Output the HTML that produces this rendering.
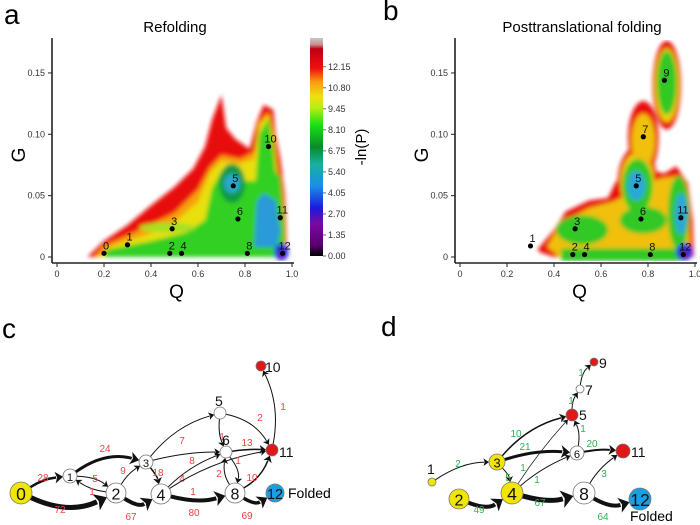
<!DOCTYPE html>
<html><head><meta charset="utf-8">
<style>
html,body{margin:0;padding:0;background:#fff;}
svg{display:block;font-family:"Liberation Sans",Arial,sans-serif;}
</style></head>
<body>
<svg id="fig" width="700" height="525" viewBox="0 0 700 525" xmlns="http://www.w3.org/2000/svg">
<defs>
<filter id="blur" x="-10%" y="-10%" width="120%" height="120%"><feGaussianBlur stdDeviation="2.2"/></filter>
<linearGradient id="cbar" x1="0" y1="1" x2="0" y2="0">
<stop offset="0" stop-color="#000000"/><stop offset="0.05" stop-color="#5a006e"/><stop offset="0.15" stop-color="#7a0aa0"/>
<stop offset="0.22" stop-color="#1a1ae0"/><stop offset="0.32" stop-color="#1a8ee6"/><stop offset="0.42" stop-color="#18b0a0"/>
<stop offset="0.5" stop-color="#0a8a2a"/><stop offset="0.6" stop-color="#18e018"/><stop offset="0.68" stop-color="#b8ee10"/>
<stop offset="0.73" stop-color="#f0e010"/><stop offset="0.8" stop-color="#f89a10"/><stop offset="0.86" stop-color="#f01010"/>
<stop offset="0.95" stop-color="#c00010"/><stop offset="0.97" stop-color="#c89090"/><stop offset="1" stop-color="#c8c8c8"/>
</linearGradient>
<clipPath id="clipA"><rect x="57" y="40" width="240" height="221"/></clipPath>
<clipPath id="clipB"><rect x="460" y="40" width="240" height="221"/></clipPath>
</defs>
<g id="root"></g>
</svg>
<script>
// ---------- data ----------
const ticksQ = [0, 0.2, 0.4, 0.6, 0.8, 1.0];
const tickQLabels = ["0","0.2","0.4","0.6","0.8","1.0"];
const ticksG = [0, 0.05, 0.10, 0.15];
const tickGLabels = ["0","0.05","0.10","0.15"];
const cbarValues = [0.00,1.35,2.70,4.05,5.40,6.75,8.10,9.45,10.80,12.15];
const cbarLabels = ["0.00","1.35","2.70","4.05","5.40","6.75","8.10","9.45","10.80","12.15"];
const cbarMax = 14.0;

const basinsANames = ["0","1","2","3","4","5","6","8","10","11","12"];
const basinsAQ = [0.20,0.30,0.48,0.49,0.53,0.75,0.77,0.81,0.90,0.95,0.96];
const basinsAG = [0.003,0.010,0.003,0.023,0.003,0.058,0.031,0.003,0.090,0.032,0.003];

const basinsBNames = ["1","2","3","4","5","6","7","8","9","11","12"];
const basinsBQ = [0.30,0.48,0.49,0.53,0.75,0.77,0.78,0.81,0.87,0.94,0.95];
const basinsBG = [0.009,0.002,0.023,0.002,0.058,0.031,0.098,0.002,0.144,0.032,0.002];

const landA = [
 ["#e81010","p",[[0.13,0],[0.2,0.013],[0.3,0.026],[0.4,0.042],[0.5,0.057],[0.58,0.072],[0.63,0.09],[0.66,0.112],[0.70,0.132],[0.72,0.105],[0.76,0.096],[0.82,0.088],[0.85,0.11],[0.88,0.124],[0.92,0.12],[0.93,0.1],[0.95,0.08],[0.97,0.05],[0.98,0]]],
 ["#f8a010","p",[[0.16,0],[0.2,0.009],[0.35,0.022],[0.5,0.036],[0.6,0.055],[0.65,0.073],[0.7,0.083],[0.78,0.08],[0.84,0.086],[0.86,0.11],[0.9,0.118],[0.92,0.1],[0.94,0.07],[0.96,0.05],[0.975,0]]],
 ["#e8e010","p",[[0.18,0],[0.22,0.008],[0.38,0.018],[0.5,0.028],[0.6,0.045],[0.65,0.068],[0.7,0.078],[0.78,0.076],[0.84,0.08],[0.86,0.107],[0.9,0.116],[0.92,0.097],[0.935,0.07],[0.955,0.05],[0.97,0]]],
 ["#30d020","p",[[0.2,0],[0.21,0.006],[0.4,0.013],[0.55,0.02],[0.63,0.03],[0.66,0.056],[0.7,0.07],[0.76,0.072],[0.8,0.062],[0.845,0.062],[0.86,0.1],[0.9,0.113],[0.92,0.09],[0.93,0.07],[0.95,0.065],[0.965,0.03],[0.97,0]]],
 ["#a8e020","e",0.47,0.024,0.12,0.004],
 ["#109a40","e",0.745,0.06,0.055,0.016],
 ["#2aa8c8","e",0.745,0.06,0.035,0.008],
 ["#2a9ad8","p",[[0.84,0.008],[0.85,0.045],[0.88,0.052],[0.93,0.046],[0.95,0.02],[0.93,0.008]]],
 ["#1a30e0","e",0.955,0.004,0.03,0.007],
 ["#7a0aa0","e",0.955,0.002,0.013,0.003]
];
const landB = [
 ["#e81010","p",[[0.33,0.006],[0.4,0.022],[0.45,0.037],[0.55,0.046],[0.63,0.048],[0.66,0.06],[0.7,0.07],[0.82,0.07],[0.87,0.068],[0.92,0.074],[0.97,0.06],[0.99,0.03],[0.995,0],[0.4,0],[0.34,0.004]]],
 ["#e81010","e",0.755,0.06,0.085,0.03],
 ["#e81010","e",0.78,0.097,0.065,0.03],
 ["#e81010","e",0.88,0.14,0.06,0.036],
 ["#f0c010","p",[[0.37,0.008],[0.43,0.028],[0.55,0.04],[0.65,0.045],[0.85,0.064],[0.93,0.066],[0.97,0.05],[0.98,0],[0.42,0],[0.4,0.004]]],
 ["#f0d010","e",0.755,0.06,0.072,0.025],
 ["#f0c010","e",0.78,0.095,0.05,0.022],
 ["#f0d010","e",0.88,0.14,0.05,0.03],
 ["#30c828","r",0.43,0,0.95,0.007],
 ["#30c828","e",0.52,0.022,0.11,0.012],
 ["#30c828","e",0.78,0.03,0.1,0.011],
 ["#30c828","e",0.755,0.058,0.065,0.022],
 ["#30c828","e",0.88,0.142,0.042,0.026],
 ["#30c828","e",0.93,0.036,0.045,0.03],
 ["#2aa8d8","e",0.75,0.058,0.038,0.012],
 ["#2aa8d8","e",0.94,0.035,0.026,0.017],
 ["#1a30e0","e",0.955,0.004,0.035,0.007],
 ["#7a0aa0","e",0.955,0.002,0.014,0.003]
];

const netCNodes = [
 ["0",21,493,11,"#f2e600",true],["1",70,476,7,"#fff",true],["2",116,493,10,"#fff",true],
 ["3",146,462,7,"#fff",true],["4",161,494,10,"#fff",true],["5",220,413,6,"#fff",false,215,406],
 ["6",226,452,6,"#fff",false,222,445],["8",235,493,10,"#fff",true],["10",261,366,5,"#e01818",false,265,372],
 ["11",272,450,6,"#e01818",false,279,457],["12",275,493,9,"#1aa0e0",true]
];
const netCEdges = [
 ["0","1",-6,2.5,"28",43,481],["0","2",22,5,"72",60,513],["1","2",-8,1,"5",95,482],["2","1",-6,1,"1",92,495],
 ["1","3",-18,3,"24",105,452],["2","3",-5,1,"9",123,474],["3","4",-4,1.5,"18",158,476],["2","4",14,4,"67",131,520],
 ["3","5",-14,1,"7",182,444],["3","6",-5,1,"8",192,464],["4","6",-8,1,"4",182,482],["4","11",-12,1,"1",193,495],
 ["4","8",10,4,"80",194,516],["5","6",5,1,"1",222,440],["5","11",-14,1,"2",260,421],["6","11",-2,1.5,"13",247,446],
 ["6","8",-10,1,"1",238,464],["8","6",-8,1,"2",219,477],["8","11",10,1.5,"10",252,481],["8","12",12,3.5,"69",247,519],
 ["11","10",14,1,"1",283,410]
];
const netDNodes = [
 ["1",432,482,4,"#f2e600",false,427,474],["2",459,499,10,"#f2e600",true],["3",497,462,8,"#f2e600",true],
 ["4",512,493,11,"#f2e600",true],["5",572,415,6,"#e01818",false,579,420],["6",577,453,7,"#fff",true],
 ["7",580,389,4,"#fff",false,585,395],["8",584,493,11,"#fff",true],["9",594,362,4,"#e01818",false,599,368],
 ["11",623,451,7,"#e01818",false,631,457],["12",640,499,11,"#1aa0e0",true]
];
const netDEdges = [
 ["1","3",-10,1,"2",458,467],["3","5",-14,1.5,"10",516,437],["3","6",-8,3,"21",525,450],["3","4",-5,1,"5",508,481],
 ["4","5",-4,0.7,"1",523,471],["4","6",-6,1,"1",537,483],["6","5",6,1,"1",583,432],["5","7",-4,1,"1",571,404],
 ["7","9",-6,1,"1",581,376],["6","11",-3,2,"20",592,447],["2","4",14,4,"49",479,513],["4","8",10,5,"67",540,506],
 ["8","11",-6,1,"3",604,477],["8","12",12,4,"64",603,520]
];

// ---------- helpers ----------
const NS="http://www.w3.org/2000/svg";
const root=document.getElementById('root');
function mk(tag,attrs,parent,text){const e=document.createElementNS(NS,tag);for(const k in attrs)e.setAttribute(k,attrs[k]);if(text!==undefined)e.textContent=text;(parent||root).appendChild(e);return e;}

function drawPanel(x0,clipId,land,names,bq,bg,title,titleX,letter,letterX,letterY,prefix){
  const X=q=>x0+235*q, Y=g=>257-1227*g;
  const g=mk('g',{});
  
  
  const lt=mk('text',{x:letterX,y:letterY,'font-size':28},g,letter);
  
  
  const tt=mk('text',{x:titleX,y:32,'font-size':15,'text-anchor':'middle'},g,title);
  
  
  const hm=mk('g',{'clip-path':'url(#'+clipId+')'},g);
  
  
  const hb=mk('g',{filter:'url(#blur)'},hm);
  land.forEach(L=>{
    let el;
    if(L[1]==='p') el=mk('polygon',{points:L[2].map(p=>X(p[0])+','+Y(p[1])).join(' '),fill:L[0]},hb);
    else if(L[1]==='e') el=mk('ellipse',{cx:X(L[2]),cy:Y(L[3]),rx:235*L[4],ry:1227*L[5],fill:L[0]},hb);
    else el=mk('rect',{x:X(L[2]),y:Y(L[5]),width:X(L[4])-X(L[2]),height:Y(L[3])-Y(L[5])+4,fill:L[0]},hb);
    
    
  });
  const ax=mk('g',{stroke:'#222','stroke-width':1.6,fill:'none'},g);
  
  
  mk('line',{x1:x0-5,y1:38,x2:x0-5,y2:263},ax);
  mk('line',{x1:x0-5,y1:263,x2:X(1)+2,y2:263},ax);
  ticksQ.forEach((q,i)=>{
    mk('line',{x1:X(q),y1:263,x2:X(q),y2:267,'stroke-width':1},ax);
    const t=mk('text',{x:X(q),y:277,'font-size':9,'text-anchor':'middle',fill:'#333',stroke:'none'},g,tickQLabels[i]);
    
    
  });
  ticksG.forEach((v,i)=>{
    mk('line',{x1:x0-9,y1:Y(v),x2:x0-5,y2:Y(v),'stroke-width':1},ax);
    const t=mk('text',{x:x0-12,y:Y(v)+3,'font-size':9,'text-anchor':'end',fill:'#333',stroke:'none'},g,tickGLabels[i]);
    
    
  });
  const xt=mk('text',{x:X(0.5)+2,y:298,'font-size':19,'text-anchor':'middle'},g,'Q');
  
  
  const yt=mk('text',{x:0,y:0,'font-size':19,'text-anchor':'middle',transform:'translate('+(x0-32)+',155) rotate(-90)'},g,'G');
  
  
  names.forEach((n,i)=>{
    const d=mk('circle',{cx:X(bq[i]),cy:Y(bg[i]),r:2.6,fill:'#000'},g);
    
    
    const t=mk('text',{x:X(bq[i])+2,y:Y(bg[i])-4,'font-size':11,'text-anchor':'middle',fill:'#111'},g,n);
    
    
  });
}

drawPanel(57,'clipA',landA,basinsANames,basinsAQ,basinsAG,'Refolding',175,'a',4,24,'refolding');
drawPanel(460,'clipB',landB,basinsBNames,basinsBQ,basinsBG,'Posttranslational folding',582,'b',383,20,'posttranslational');

(function(){
  const g=mk('g',{});
  
  
  const top=38,bot=256;
  const CY=v=>bot-(bot-top)*v/cbarMax;
  const r=mk('rect',{x:310,y:top,width:13,height:bot-top,fill:'url(#cbar)'},g);
  
  
  cbarValues.forEach((v,i)=>{
    mk('line',{x1:323,y1:CY(v),x2:326,y2:CY(v),stroke:'#444','stroke-width':0.8},g);
    const t=mk('text',{x:328,y:CY(v)+3,'font-size':9,fill:'#333'},g,cbarLabels[i]);
    
    
  });
  const t=mk('text',{x:0,y:0,'font-size':15,'text-anchor':'middle',transform:'translate(366,147) rotate(-90)'},g,'-ln(P)');
  
  
})();

function drawNet(nodes,edges,labelColor,prefix,letter,lx,ly){
  const g=mk('g',{});
  
  
  const lt=mk('text',{x:lx,y:ly,'font-size':28},g,letter);
  
  
  const N={};nodes.forEach(n=>N[n[0]]=n);
  edges.forEach(e=>{
    const a=N[e[0]],b=N[e[1]];
    const mx=(a[1]+b[1])/2,my=(a[2]+b[2])/2;
    let dx=b[1]-a[1],dy=b[2]-a[2];const L=Math.hypot(dx,dy);
    const px=-dy/L,py=dx/L;
    const cx=mx+px*e[2],cy=my+py*e[2];
    let sx=cx-a[1],sy=cy-a[2];let sl=Math.hypot(sx,sy);
    const x1=a[1]+sx/sl*a[3],y1=a[2]+sy/sl*a[3];
    let ex=b[1]-cx,ey=b[2]-cy;let el=Math.hypot(ex,ey);ex/=el;ey/=el;
    const hl=4+e[3]*1.6, hw=2.5+e[3]*1.3;
    const tipx=b[1]-ex*b[3],tipy=b[2]-ey*b[3];
    const bx=tipx-ex*hl,by=tipy-ey*hl;
    const p=mk('path',{d:`M${x1},${y1} Q${cx},${cy} ${bx+ex*1},${by+ey*1}`,fill:'none',stroke:'#111','stroke-width':e[3]},g);
    
    
    const h=mk('polygon',{points:`${tipx},${tipy} ${bx-ey*hw},${by+ex*hw} ${bx+ex*hl*0.25},${by+ey*hl*0.25} ${bx+ey*hw},${by-ex*hw}`,fill:'#111'},g);
    
    
    const t=mk('text',{x:e[5],y:e[6],'font-size':10,fill:labelColor,'text-anchor':'middle'},g,e[4]);
    
    
  });
  nodes.forEach(n=>{
    const c=mk('circle',{cx:n[1],cy:n[2],r:n[3],fill:n[4],stroke:'#777','stroke-width':0.8},g);
    
    
    let t;
    if(n[5]) t=mk('text',{x:n[1],y:n[2]+n[3]*0.55+1,'font-size':Math.max(11,n[3]*1.6),'text-anchor':'middle',fill:'#111'},g,n[0]);
    else t=mk('text',{x:n[6],y:n[7],'font-size':14,fill:'#111'},g,n[0]);
    
    
  });
}
drawNet(netCNodes,netCEdges,'#f04040','refolding','c',2,338);
drawNet(netDNodes,netDEdges,'#30b050','posttranslational','d',381,336);
(function(){
  const t1=mk('text',{x:288,y:498,'font-size':14},root,'Folded');
  
  
  const t2=mk('text',{x:630,y:521,'font-size':14},root,'Folded');
  
  
})();
</script>
</body></html>
